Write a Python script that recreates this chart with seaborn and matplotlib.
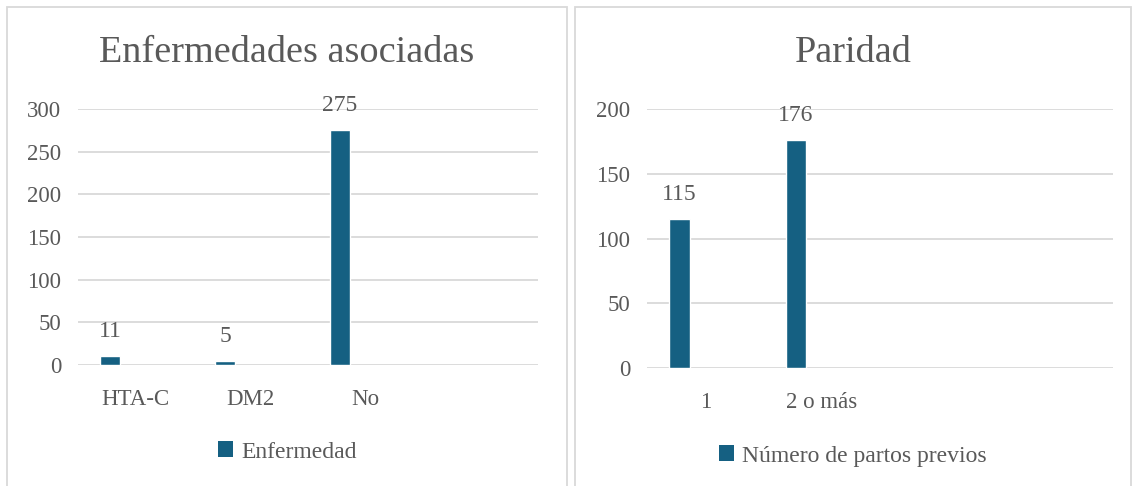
import matplotlib.pyplot as plt
import pandas as pd
import seaborn as sns
from matplotlib.patches import Patch, Rectangle

OUT_PATH = "out.png"

# Left chart
LEFT_TITLE = "Enfermedades asociadas"
LEFT_SERIES = "Enfermedad"
LEFT_CATEGORIES = ["HTA-C", "DM2", "No"]
LEFT_VALUES = [11, 5, 275]
LEFT_TICKS = [0, 50, 100, 150, 200, 250, 300]

# Right chart
RIGHT_TITLE = "Paridad"
RIGHT_SERIES = "Número de partos previos"
RIGHT_CATEGORIES = ["1", "2 o más"]
RIGHT_VALUES = [115, 176]
RIGHT_TICKS = [0, 50, 100, 150, 200]

BAR_COLOR = "#156082"
TEXT_COLOR = "#595959"
GRID_COLOR = "#d9d9d9"
BORDER_COLOR = "#d9d9d9"
W, H = 1133, 486
SLOTS = 4
BAR_WIDTH = 0.174
BAR_SHIFT = -0.222


def px_box(x0, y0, x1, y1):
    # pixel box (top-left origin) -> figure fraction [left, bottom, width, height]
    return [x0 / W, 1 - y1 / H, (x1 - x0) / W, (y1 - y0) / H]


def draw_panel(fig, panel, axbox, title, series, cats, vals, ticks, legend_y):
    px0, py0, px1, py1 = panel
    fig.patches.append(
        Rectangle((px0 / W, 1 - py1 / H), (px1 - px0) / W, (py1 - py0) / H,
                  transform=fig.transFigure, fill=False,
                  edgecolor=BORDER_COLOR, linewidth=1.3)
    )
    cx = (px0 + px1) / 2 / W
    fig.text(cx, 1 - 53 / H, title, ha="center", va="center",
             fontsize=27.5, color=TEXT_COLOR)

    ax = fig.add_axes(px_box(*axbox))
    df = pd.DataFrame({"cat": cats, "val": vals})
    sns.barplot(data=df, x="cat", y="val", color=BAR_COLOR, width=BAR_WIDTH,
                saturation=1, ax=ax)
    for p in ax.patches:
        p.set_x(p.get_x() + BAR_SHIFT)
    ax.bar_label(ax.containers[0], padding=10, fontsize=17, color=TEXT_COLOR)

    ax.set_xlim(-0.5, SLOTS - 0.5)
    ax.set_ylim(ticks[0], ticks[-1])
    ax.set_yticks(ticks)
    ax.set_xlabel("")
    ax.set_ylabel("")
    for s in ax.spines.values():
        s.set_visible(False)
    ax.grid(axis="y", color=GRID_COLOR, linewidth=1.3)
    ax.grid(axis="x", visible=False)
    ax.set_axisbelow(True)
    ax.tick_params(axis="x", length=0, pad=17, labelsize=16.5, colors=TEXT_COLOR)
    ax.tick_params(axis="y", length=0, pad=12, labelsize=16.5, colors=TEXT_COLOR)
    ax.patch.set_alpha(0)

    handle = Patch(facecolor=BAR_COLOR, edgecolor="none")
    fig.legend([handle], [series], loc="center",
               bbox_to_anchor=(cx, 1 - legend_y / H), frameon=False,
               fontsize=17, labelcolor=TEXT_COLOR, handlelength=0.64,
               handleheight=0.64, handletextpad=0.35, borderpad=0)
    return ax


def main() -> None:
    sns.set_theme(style="white")
    plt.rcParams["font.family"] = ["Liberation Serif", "DejaVu Serif"]

    fig = plt.figure(figsize=(W / 100, H / 100), dpi=100)
    fig.patch.set_facecolor("white")

    draw_panel(fig, (7, 7, 567, 500), (78, 109, 538, 365),
               LEFT_TITLE, LEFT_SERIES, LEFT_CATEGORIES, LEFT_VALUES,
               LEFT_TICKS, 452)
    draw_panel(fig, (575, 7, 1131, 500), (647, 109, 1113, 368),
               RIGHT_TITLE, RIGHT_SERIES, RIGHT_CATEGORIES, RIGHT_VALUES,
               RIGHT_TICKS, 456)

    fig.savefig(OUT_PATH, dpi=100)
    plt.close(fig)


if __name__ == "__main__":
    main()
